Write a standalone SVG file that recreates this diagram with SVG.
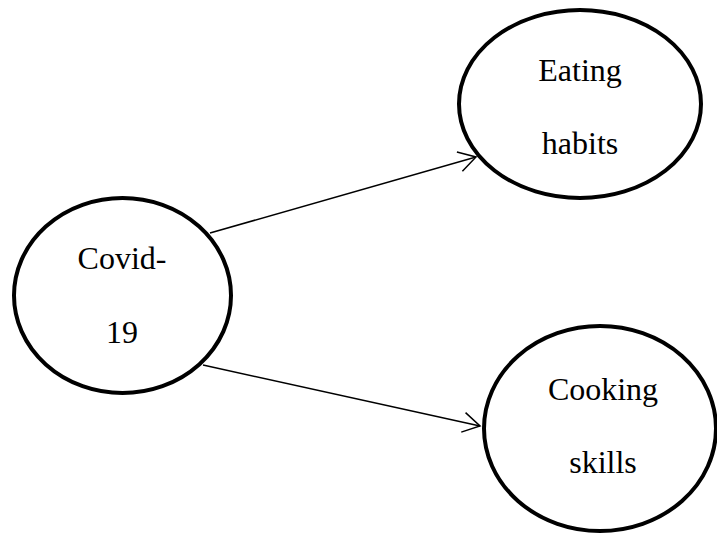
<svg xmlns="http://www.w3.org/2000/svg" width="717" height="534" viewBox="0 0 717 534">
<style>
.node ellipse{fill:#fff;stroke:#000;stroke-width:4}
.node text{font-family:"Liberation Serif","Times New Roman",serif;font-size:32px;fill:#000;text-anchor:middle}
.edge{fill:none;stroke:#000;stroke-width:1.5}
</style>
<defs>
<marker id="arr" markerUnits="userSpaceOnUse" viewBox="-20 -12 22 24" refX="0" refY="0" markerWidth="22" markerHeight="24" orient="auto" overflow="visible">
<path d="M-17,-10 L0,0 L-17,10" fill="none" stroke="#000" stroke-width="1.5"/>
</marker>
</defs>
<rect width="717" height="534" fill="#fff"/>
<g id="connectors">
<line class="edge" x1="210" y1="233" x2="476" y2="157" marker-end="url(#arr)"/>
<line class="edge" x1="203" y1="365" x2="480" y2="426" marker-end="url(#arr)"/>
</g>
<g id="covid" class="node">
<ellipse cx="122.5" cy="295.5" rx="108.5" ry="97.5"/>
<text x="122" y="269">Covid-</text>
<text x="122" y="343">19</text>
</g>
<g id="eating" class="node">
<ellipse cx="580" cy="104" rx="121" ry="94"/>
<text x="580" y="81">Eating</text>
<text x="580" y="154">habits</text>
</g>
<g id="cooking" class="node">
<ellipse cx="600" cy="428.5" rx="116" ry="102.5"/>
<text x="603" y="400">Cooking</text>
<text x="603" y="473">skills</text>
</g>
</svg>
